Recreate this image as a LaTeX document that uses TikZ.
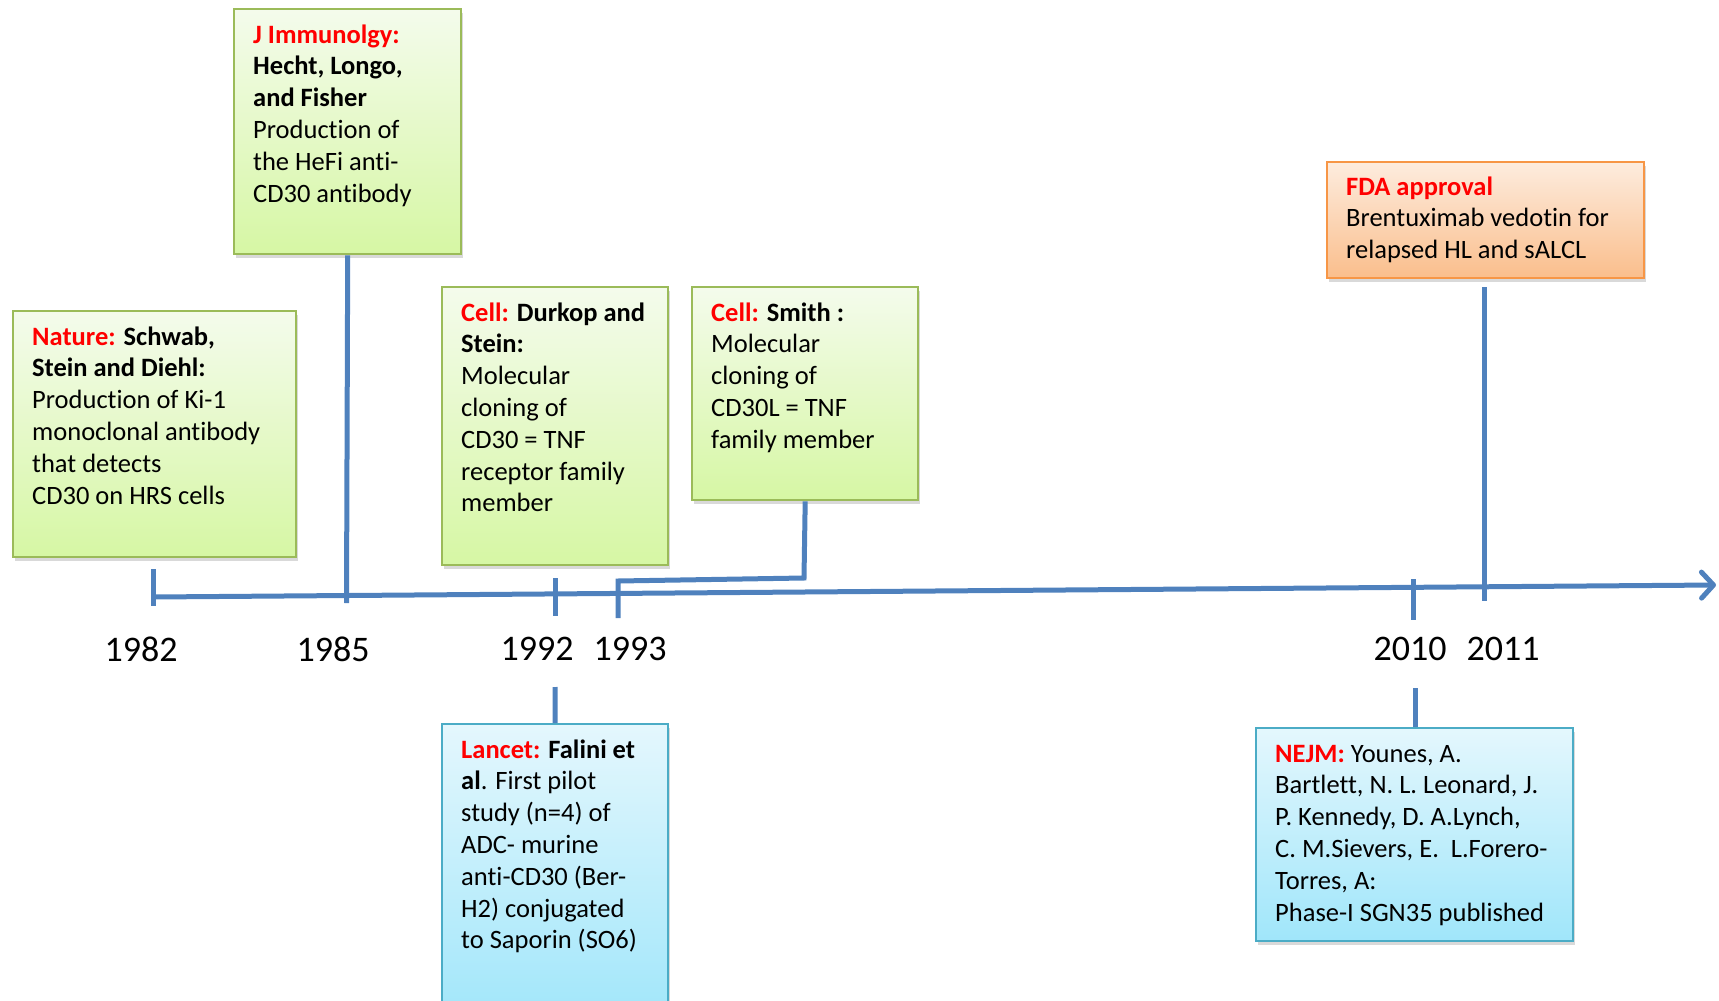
\documentclass[tikz,border=0pt]{standalone}
\usepackage{fontspec}
\setmainfont{Carlito}[RawFeature={-liga;-clig;-calt;-dlig}]
\usetikzlibrary{shadows,arrows.meta}
\definecolor{tl}{RGB}{79,129,189}
\definecolor{gborder}{RGB}{155,187,89}
\definecolor{gtop}{RGB}{244,251,236}
\definecolor{gbot}{RGB}{214,247,164}
\definecolor{bborder}{RGB}{75,172,198}
\definecolor{btop}{RGB}{228,247,253}
\definecolor{bbot}{RGB}{160,230,250}
\definecolor{oborder}{RGB}{247,150,70}
\definecolor{otop}{RGB}{253,236,222}
\definecolor{obot}{RGB}{250,190,140}
\definecolor{redtxt}{RGB}{255,0,0}
\newcommand\redb[1]{\textcolor{redtxt}{\textbf{#1}}}
\tikzset{
  boxbase/.style={rectangle, inner sep=0pt, line width=2.4pt, anchor=north west,
    drop shadow={shadow xshift=2pt, shadow yshift=-4pt, opacity=0.3}},
  gbox/.style={boxbase, draw=gborder, top color=gtop, bottom color=gbot},
  bbox/.style={boxbase, draw=bborder, top color=btop, bottom color=bbot},
  obox/.style={boxbase, draw=oborder, top color=otop, bottom color=obot},
  txt/.style={anchor=north west, inner sep=0pt, align=left, font=\fontsize{26.5}{31.8}\selectfont},
  year/.style={inner sep=0pt, font=\fontsize{36}{43}\selectfont},
  tlline/.style={draw=tl, line width=5pt},
}
\begin{document}
\begin{tikzpicture}[x=1pt,y=-1pt]
\useasboundingbox (0,0) rectangle (1719,1001);
\clip (0,0) rectangle (1719,1001);

% boxes
\node[gbox, minimum width=283pt, minimum height=246pt] (nat) at (12,310) {};
\node[gbox, minimum width=227pt, minimum height=245pt] (jim) at (233,8) {};
\node[gbox, minimum width=226pt, minimum height=278pt] (dur) at (441,286) {};
\node[gbox, minimum width=226pt, minimum height=213pt] (smi) at (691,286) {};
\node[bbox, minimum width=226pt, minimum height=300pt] (lan) at (441,723) {};
\node[obox, minimum width=317pt, minimum height=116pt] (fda) at (1326,161) {};
\node[bbox, minimum width=317pt, minimum height=213pt] (nej) at (1255,727) {};

% texts
\node[txt] (natT) at (32,322.7) {\strut\redb{Nature:} \textbf{Schwab,}\\ \textbf{Stein and Diehl:}\\ Production of Ki-1\\ monoclonal antibody\\ that detects\\ CD30 on HRS cells};
\node[txt] (jimT) at (253,20.7) {\strut\redb{J Immunolgy:}\\ \textbf{Hecht, Longo,}\\ \textbf{and Fisher}\\ Production of\\ the HeFi anti-\\ CD30 antibody};
\node[txt] (durT) at (461,298.7) {\strut\redb{Cell:} \textbf{Durkop and}\\ \textbf{Stein:}\\ Molecular\\ cloning of\\ CD30 = TNF\\ receptor family\\ member};
\node[txt] (smiT) at (711,298.7) {\strut\redb{Cell:} \textbf{Smith :}\\ Molecular\\ cloning of\\ CD30L = TNF\\ family member};
\node[txt] (lanT) at (461,735.7) {\strut\redb{Lancet:} \textbf{Falini et}\\ \textbf{al}. First pilot\\ study (n=4) of\\ ADC- murine\\ anti-CD30 (Ber-\\ H2) conjugated\\ to Saporin (SO6)};
\node[txt] (fdaT) at (1346,172.7) {\strut\redb{FDA approval}\\ Brentuximab vedotin for\\ relapsed HL and sALCL};
\node[txt] (nejT) at (1275,739.7) {\strut\redb{NEJM:} Younes, A.\\ Bartlett, N. L. Leonard, J.\\ P. Kennedy, D. A.Lynch,\\ C. M.Sievers, E.\ \ L.Forero-\\ Torres, A:\\ Phase-I SGN35 published};

% timeline coordinates
\coordinate (ts) at (153,597);
\coordinate (te) at (1716,585);
\coordinate (k82a) at (153,569); \coordinate (k82b) at (153,606);
\coordinate (k85) at (346.5,603);
\coordinate (k92a) at (555,578); \coordinate (k92b) at (555,616);
\coordinate (k93b) at (618,618);
\coordinate (s1) at (804,578); \coordinate (s2) at (618,581);
\coordinate (k10a) at (1413,579); \coordinate (k10b) at (1413,620);
\coordinate (k11a) at (1484.5,287); \coordinate (k11b) at (1484.5,601);
\coordinate (lan0) at (555,687);
\coordinate (nej0) at (1415,688);

% timeline
\draw[tlline, -{Straight Barb[length=12pt,width=26pt,round]}] (ts) -- (te);
\draw[tlline] (k82a) -- (k82b);
\draw[tlline] (k92a) -- (k92b);
\draw[tlline] (k10a) -- (k10b);
\draw[tlline] (jim.south) -- (k85);
\draw[tlline, line join=miter] (smi.south) -- (s1) -- (s2) -- (k93b);
\draw[tlline] (k11a) -- (k11b);
\draw[tlline] (lan0) -- (lan.north);
\draw[tlline] (nej0) -- (nej.north -| nej0);

% years
\node[year] (y82) at (141,649) {1982};
\node[year] (y85) at (333,649) {1985};
\node[year] (y92) at (537,649) {1992};
\node[year] (y93) at (630,649) {1993};
\node[year] (y10) at (1410,649) {2010};
\node[year] (y11) at (1503,649) {2011};
\end{tikzpicture}
\end{document}
